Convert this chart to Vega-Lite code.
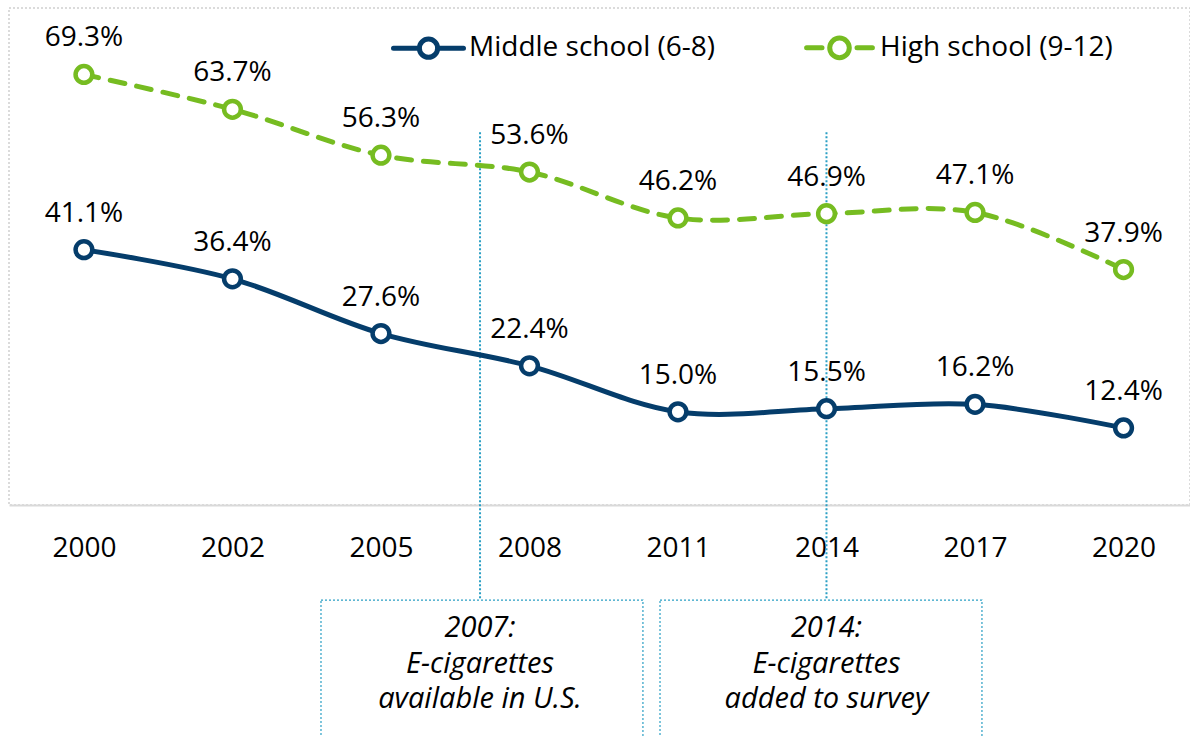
{
  "$schema": "https://vega.github.io/schema/vega-lite/v6.json",
  "width": 1181,
  "height": 497,
  "autosize": {"type": "none"},
  "padding": {"left": 9, "top": 8, "right": 0, "bottom": 231},
  "background": "white",
  "config": {
    "view": {"stroke": "#d0d0d0", "strokeDash": [2, 2], "strokeWidth": 1.5},
    "font": "Open Sans",
    "axis": {"title": null, "ticks": false, "grid": false, "domainColor": "#d9d9d9", "domainWidth": 2, "labelFontSize": 28, "labelFont": "Open Sans", "labelColor": "black", "labelPadding": 29, "labelAngle": 0}
  },
  "datasets": {
    "rates": [
      {"year": "2000", "level": "Middle school (6-8)", "rate": 0.411},
      {"year": "2002", "level": "Middle school (6-8)", "rate": 0.364},
      {"year": "2005", "level": "Middle school (6-8)", "rate": 0.276},
      {"year": "2008", "level": "Middle school (6-8)", "rate": 0.224},
      {"year": "2011", "level": "Middle school (6-8)", "rate": 0.150},
      {"year": "2014", "level": "Middle school (6-8)", "rate": 0.155},
      {"year": "2017", "level": "Middle school (6-8)", "rate": 0.162},
      {"year": "2020", "level": "Middle school (6-8)", "rate": 0.124},
      {"year": "2000", "level": "High school (9-12)", "rate": 0.693},
      {"year": "2002", "level": "High school (9-12)", "rate": 0.637},
      {"year": "2005", "level": "High school (9-12)", "rate": 0.563},
      {"year": "2008", "level": "High school (9-12)", "rate": 0.536},
      {"year": "2011", "level": "High school (9-12)", "rate": 0.462},
      {"year": "2014", "level": "High school (9-12)", "rate": 0.469},
      {"year": "2017", "level": "High school (9-12)", "rate": 0.471},
      {"year": "2020", "level": "High school (9-12)", "rate": 0.379}
    ],
    "notes": [
      {"event": "2007", "at": 2.667, "from": 1.596, "to": 3.764, "note": "2007:\nE-cigarettes\navailable in U.S."},
      {"event": "2014", "at": 5.0, "from": 3.879, "to": 6.047, "note": "2014:\nE-cigarettes\nadded to survey"}
    ]
  },
  "layer": [
    {
      "data": {"name": "notes"},
      "layer": [
        {
          "mark": {"type": "rule", "color": "#2a9fc4", "strokeWidth": 2, "strokeDash": [2, 2]},
          "encoding": {
            "x": {"field": "at", "type": "quantitative", "scale": {"domain": [-0.505, 7.448], "nice": false, "zero": false}, "axis": null},
            "y": {"datum": 0.6, "type": "quantitative"},
            "y2": {"datum": -0.153}
          }
        },
        {
          "mark": {"type": "rect", "fill": "white", "fillOpacity": 0, "stroke": "#2a9fc4", "strokeWidth": 1.2, "strokeDash": [2, 2]},
          "encoding": {
            "x": {"field": "from", "type": "quantitative", "axis": null},
            "x2": {"field": "to"},
            "y": {"datum": -0.153, "type": "quantitative"},
            "y2": {"datum": -0.5}
          }
        },
        {
          "mark": {"type": "text", "fontStyle": "italic", "fontSize": 29, "font": "Open Sans", "lineHeight": 35.5, "lineBreak": "\n", "align": "center", "baseline": "alphabetic", "fill": "black"},
          "encoding": {
            "x": {"field": "at", "type": "quantitative", "axis": null},
            "y": {"datum": -0.2126, "type": "quantitative"},
            "text": {"field": "note"}
          }
        }
      ]
    },
    {
      "data": {"name": "rates"},
      "encoding": {
        "x": {"field": "year", "type": "ordinal", "scale": {"type": "point", "padding": 0.476, "align": 0.53}},
        "y": {"field": "rate", "type": "quantitative", "scale": {"domain": [0, 0.8], "nice": false, "zero": false}, "axis": null},
        "color": {
          "field": "level", "type": "nominal",
          "scale": {"domain": ["Middle school (6-8)", "High school (9-12)"], "range": ["#053d6b", "#76bc21"]},
          "legend": {
            "title": null, "orient": "none", "legendX": 382, "legendY": 2, "direction": "horizontal",
            "symbolType": "M-1,0H-0.26M0.26,0H1M0.26,0A0.26,0.26,0,1,1,-0.26,0A0.26,0.26,0,1,1,0.26,0Z",
            "symbolSize": 4900, "symbolStrokeWidth": 5, "symbolFillColor": "white",
            "labelFontSize": 28, "labelFont": "Open Sans", "labelColor": "black", "labelOffset": 3,
            "columnPadding": 80, "labelLimit": 400, "padding": 0,
            "encode": {"symbols": {"update": {
              "fill": {"value": "white"},
              "strokeCap": {"value": "round"},
              "shape": {"signal": "datum.value === 'High school (9-12)' ? 'M-0.94,0H-0.5M0.5,0H0.94M0.28,0A0.28,0.28,0,1,1,-0.28,0A0.28,0.28,0,1,1,0.28,0Z' : 'M-1,0H-0.26M0.26,0H1M0.26,0A0.26,0.26,0,1,1,-0.26,0A0.26,0.26,0,1,1,0.26,0Z'"}
            }}}
          }
        }
      },
      "layer": [
        {
          "transform": [{"filter": "datum.level === 'Middle school (6-8)'"}],
          "mark": {"type": "line", "interpolate": "catmull-rom", "strokeWidth": 5, "strokeCap": "round"}
        },
        {
          "transform": [{"filter": "datum.level === 'High school (9-12)'"}],
          "mark": {"type": "line", "interpolate": "catmull-rom", "strokeWidth": 5, "strokeCap": "round", "strokeDash": [15, 12]}
        },
        {
          "mark": {"type": "point", "shape": "circle", "filled": false, "fill": "white", "size": 280, "strokeWidth": 4.5, "opacity": 1}
        },
        {
          "mark": {"type": "text", "dy": -28, "fontSize": 28, "font": "Open Sans", "fill": "black", "align": "center", "baseline": "alphabetic"},
          "encoding": {
            "color": {"value": "black"},
            "text": {"field": "rate", "type": "quantitative", "format": ".1%"}
          }
        }
      ]
    }
  ],
  "resolve": {"scale": {"x": "independent"}}
}
